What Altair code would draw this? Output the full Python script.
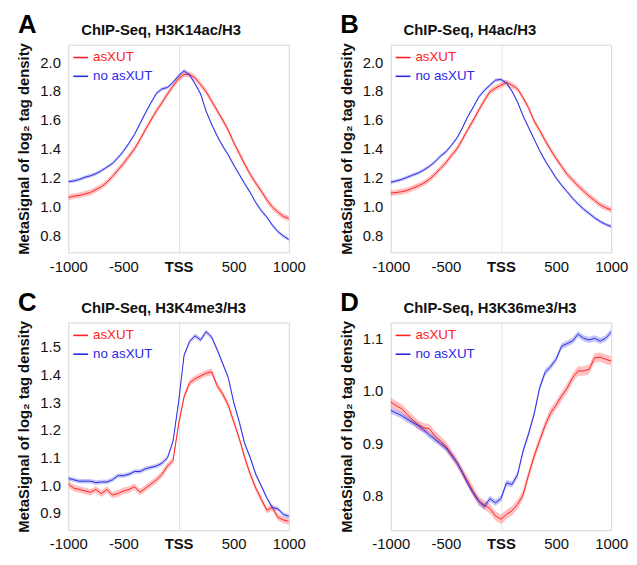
import altair as alt
import pandas as pd

positions = list(range(-1000, 1001, 50))

# Panel A: H3K14ac/H3
a_asxut = [1.065, 1.075, 1.08, 1.09, 1.10, 1.12, 1.14, 1.17, 1.21, 1.255, 1.30, 1.35, 1.40, 1.465,
           1.535, 1.60, 1.665, 1.72, 1.78, 1.835, 1.885, 1.915, 1.915, 1.89, 1.845, 1.795, 1.73,
           1.665, 1.60, 1.53, 1.445, 1.37, 1.295, 1.225, 1.165, 1.11, 1.05, 1.00, 0.965, 0.935, 0.92]
a_noasxut = [1.175, 1.18, 1.19, 1.205, 1.215, 1.23, 1.25, 1.275, 1.30, 1.34, 1.385, 1.44, 1.50, 1.575,
             1.65, 1.72, 1.785, 1.815, 1.825, 1.86, 1.905, 1.94, 1.91, 1.85, 1.78, 1.66, 1.57, 1.49,
             1.42, 1.36, 1.29, 1.225, 1.16, 1.10, 1.03, 0.975, 0.93, 0.875, 0.83, 0.80, 0.775]

# Panel B: H4ac/H3
b_asxut = [1.095, 1.10, 1.105, 1.115, 1.13, 1.145, 1.165, 1.19, 1.225, 1.265, 1.305, 1.355, 1.40, 1.465,
           1.535, 1.60, 1.67, 1.735, 1.795, 1.82, 1.84, 1.86, 1.84, 1.815, 1.755, 1.685, 1.595, 1.53,
           1.46, 1.395, 1.335, 1.28, 1.225, 1.185, 1.145, 1.11, 1.075, 1.045, 1.015, 0.995, 0.98]
b_noasxut = [1.17, 1.18, 1.19, 1.205, 1.22, 1.235, 1.255, 1.28, 1.31, 1.35, 1.38, 1.425, 1.475, 1.545,
             1.625, 1.69, 1.76, 1.805, 1.84, 1.875, 1.88, 1.855, 1.80, 1.725, 1.63, 1.55, 1.47, 1.39,
             1.32, 1.26, 1.20, 1.15, 1.105, 1.06, 1.02, 0.985, 0.955, 0.925, 0.90, 0.88, 0.865]

# Panel C: H3K4me3/H3
c_asxut = [1.005, 0.99, 0.985, 0.98, 0.975, 0.985, 0.97, 0.985, 0.965, 0.97, 0.98, 0.985, 0.995, 0.975,
           0.99, 1.005, 1.02, 1.04, 1.07, 1.09, 1.22, 1.32, 1.37, 1.385, 1.395, 1.405, 1.41, 1.36,
           1.33, 1.29, 1.23, 1.17, 1.10, 1.04, 0.99, 0.95, 0.91, 0.92, 0.885, 0.875, 0.87]
c_noasxut = [1.025, 1.02, 1.015, 1.015, 1.015, 1.01, 1.012, 1.012, 1.02, 1.035, 1.035, 1.04, 1.05, 1.05,
             1.06, 1.065, 1.07, 1.08, 1.10, 1.16, 1.30, 1.47, 1.52, 1.54, 1.525, 1.555, 1.535, 1.49,
             1.44, 1.39, 1.30, 1.23, 1.15, 1.10, 1.04, 0.998, 0.955, 0.92, 0.915, 0.895, 0.888]

# Panel D: H3K36me3/H3
d_asxut = [0.979, 0.972, 0.966, 0.955, 0.945, 0.935, 0.93, 0.928, 0.915, 0.905, 0.895, 0.88, 0.864, 0.845,
           0.828, 0.808, 0.79, 0.783, 0.776, 0.762, 0.756, 0.765, 0.772, 0.784, 0.802, 0.84, 0.875,
           0.905, 0.934, 0.958, 0.973, 0.99, 1.005, 1.025, 1.038, 1.038, 1.041, 1.063, 1.064, 1.06, 1.057]
d_noasxut = [0.963, 0.958, 0.953, 0.946, 0.94, 0.934, 0.926, 0.916, 0.908, 0.90, 0.892, 0.878, 0.864, 0.845,
             0.823, 0.805, 0.79, 0.78, 0.795, 0.787, 0.795, 0.825, 0.822, 0.84, 0.885, 0.918, 0.955,
             1.005, 1.035, 1.046, 1.06, 1.085, 1.09, 1.095, 1.108, 1.10, 1.097, 1.10, 1.095, 1.10, 1.112]

letters = ["A", "B", "C", "D"]
titles = ["ChIP-Seq, H3K14ac/H3", "ChIP-Seq, H4ac/H3", "ChIP-Seq, H3K4me3/H3", "ChIP-Seq, H3K36me3/H3"]
series_names = ["asXUT", "no asXUT"]
x_ticks = [-1000, -500, 0, 500, 1000]
y_domains = [[0.687, 2.12], [0.687, 2.12], [0.838, 1.588], [0.735, 1.13]]
y_ticks = [[0.8, 1.0, 1.2, 1.4, 1.6, 1.8, 2.0], [0.8, 1.0, 1.2, 1.4, 1.6, 1.8, 2.0],
           [0.9, 1.0, 1.1, 1.2, 1.3, 1.4, 1.5], [0.8, 0.9, 1.0, 1.1]]
# confidence half-widths (asXUT, no asXUT)
ci = [[0.02, 0.012], [0.02, 0.012], [0.012, 0.008], [0.009, 0.006]]
values = [(a_asxut, a_noasxut), (b_asxut, b_noasxut), (c_asxut, c_noasxut), (d_asxut, d_noasxut)]

RED = "#ff2020"
BLUE = "#2a2ae8"
FONT = "Liberation Sans"
W, H = 223, 210


def panel(i):
    rows = []
    for name, vals, hw in zip(series_names, values[i], ci[i]):
        for p, v in zip(positions, vals):
            rows.append({"pos": p, "val": v, "lo": v - hw, "hi": v + hw, "series": name})
    df = pd.DataFrame(rows)

    xenc = alt.X(
        "pos:Q",
        scale=alt.Scale(domain=[-1000, 1000], nice=False),
        axis=alt.Axis(
            values=x_ticks, title=None, ticks=False, domain=False, labelFontSize=15,
            labelPadding=7, labelFlush=False, labelColor="#111",
            labelExpr="datum.value == 0 ? 'TSS' : '' + datum.value",
            labelFontWeight={"condition": {"test": "datum.value == 0", "value": "bold"}, "value": "normal"},
            grid=True,
            gridColor={"condition": {"test": "datum.value == 0", "value": "#e4e4e4"}, "value": "transparent"},
        ),
    )
    yscale = alt.Scale(domain=y_domains[i], nice=False, zero=False)
    yaxis = alt.Axis(
        values=y_ticks[i], format=".1f", ticks=False, domain=False, grid=False, labelFontSize=15,
        labelPadding=8, labelColor="#111", labelFlush=False,
        title="MetaSignal of log\u2082 tag density", titleFontSize=15, titleFontWeight="bold",
        titlePadding=8, titleColor="#111",
    )
    color = alt.Color("series:N", scale=alt.Scale(domain=series_names, range=[RED, BLUE]), legend=None)

    base = alt.Chart(df)
    band = base.mark_area(opacity=0.28, clip=True).encode(
        x=xenc, y=alt.Y("lo:Q", scale=yscale, axis=yaxis), y2="hi:Q", color=color
    )
    line = base.mark_line(strokeWidth=1, clip=True).encode(
        x=xenc, y=alt.Y("val:Q", scale=yscale, axis=yaxis), color=color
    )

    leg_layers = []
    for k, (name, col) in enumerate(zip(series_names, [RED, BLUE])):
        ldf = pd.DataFrame({"label": [name]})
        yy = 13 + 19 * k
        leg_layers.append(alt.Chart(ldf).mark_rule(color=col, strokeWidth=1.6).encode(
            x=alt.value(5), x2=alt.value(20), y=alt.value(yy)))
        leg_layers.append(alt.Chart(ldf).mark_text(
            align="left", baseline="middle", fontSize=13.5, font=FONT, color=col).encode(
            x=alt.value(25), y=alt.value(yy), text="label:N"))

    letter = alt.Chart(pd.DataFrame({"t": [letters[i]]})).mark_text(
        align="left", baseline="alphabetic", fontSize=26, fontWeight="bold", font=FONT, color="#000"
    ).encode(x=alt.value(-51), y=alt.value(-12), text="t:N")

    ttl = alt.Chart(pd.DataFrame({"t": [titles[i]]})).mark_text(
        align="left", baseline="alphabetic", fontSize=15, fontWeight="bold", font=FONT, color="#111"
    ).encode(x=alt.value(13), y=alt.value(-10), text="t:N")

    return alt.layer(band, line, *leg_layers, letter, ttl).properties(width=W, height=H)


row1 = alt.hconcat(panel(0), panel(1), spacing=32)
row2 = alt.hconcat(panel(2), panel(3), spacing=32)
chart = alt.vconcat(row1, row2, spacing=14).configure(
    font=FONT, padding={"left": 8, "top": 0, "right": 0, "bottom": 0}
).configure_view(stroke="#d4d4d4", strokeWidth=1).configure_axis(labelFont=FONT, titleFont=FONT)

chart.save("out.html", embed_options={"renderer": "svg", "actions": False})
